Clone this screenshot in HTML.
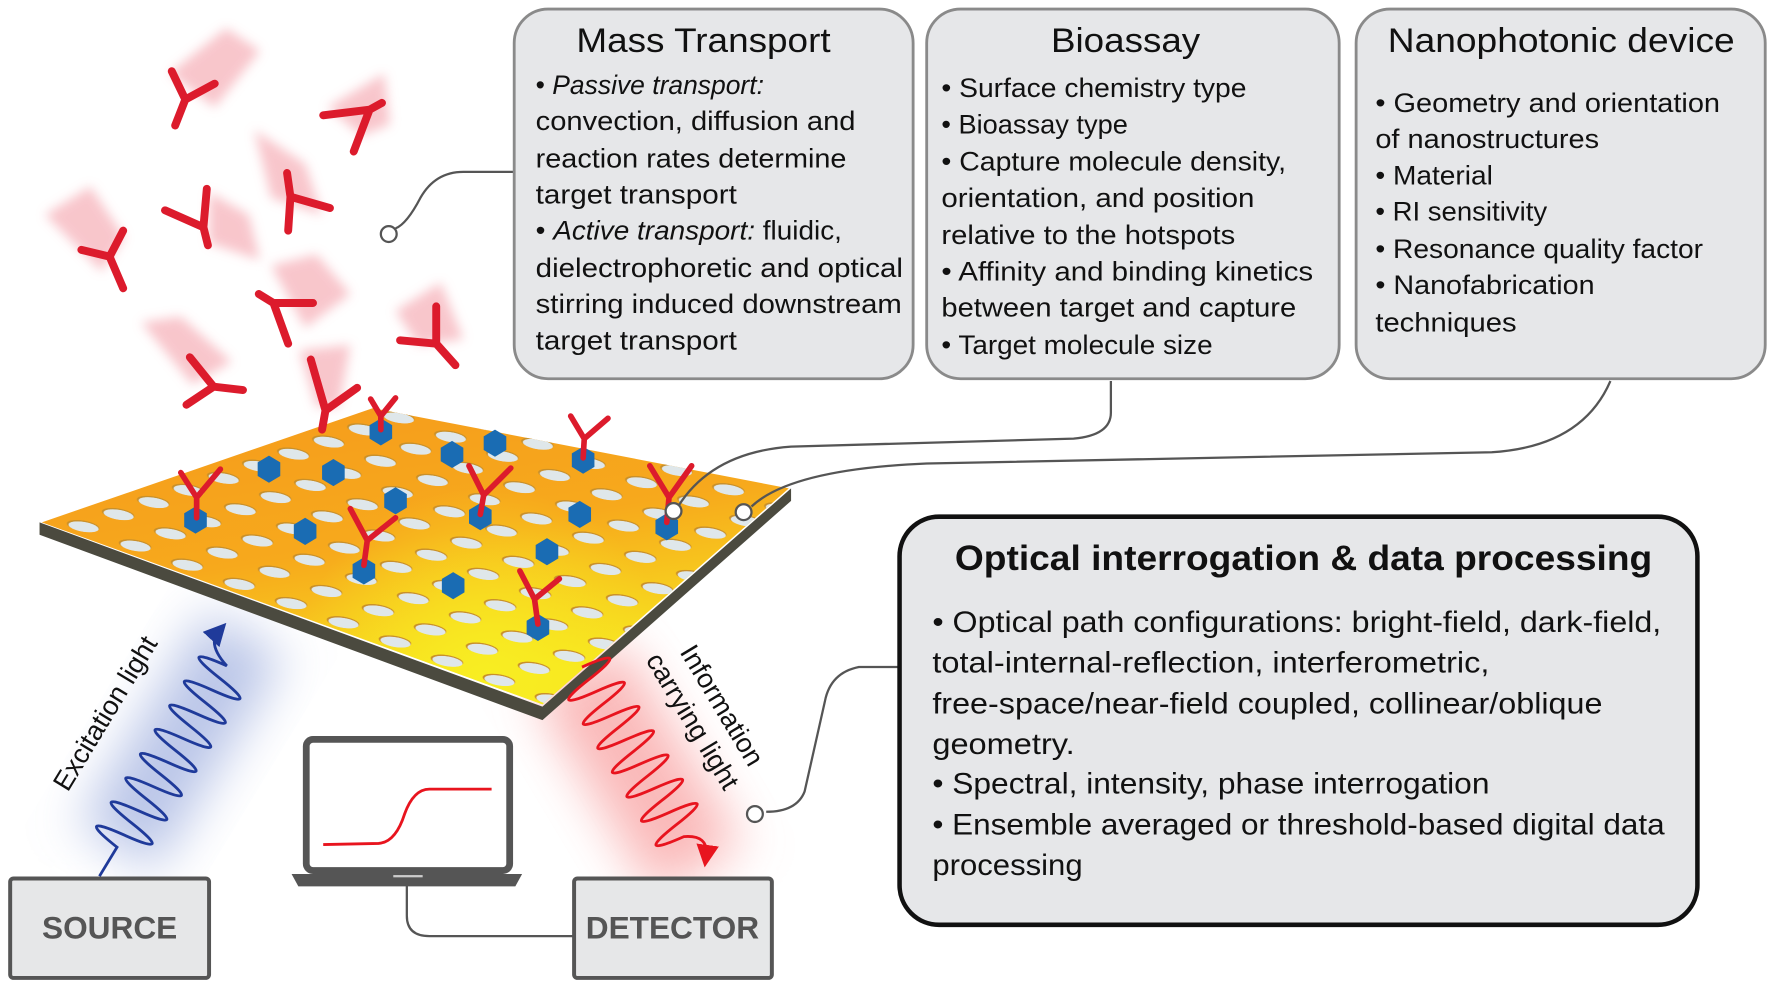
<!DOCTYPE html>
<html><head><meta charset="utf-8"><style>
html,body{margin:0;padding:0;background:#fff;}
svg{display:block;}
text{font-family:"Liberation Sans",sans-serif;fill:#111;}
.b{font-size:24px;}
</style></head><body>
<svg width="1772" height="987" viewBox="0 0 1568 873" preserveAspectRatio="none" xmlns="http://www.w3.org/2000/svg">
<defs>
<filter id="bl" x="-50%" y="-50%" width="200%" height="200%"><feGaussianBlur stdDeviation="5"/></filter>
<filter id="gl" x="-50%" y="-50%" width="200%" height="200%"><feGaussianBlur stdDeviation="22"/></filter>
<linearGradient id="pg" x1="0" y1="0" x2="0.4" y2="1">
<stop offset="0" stop-color="#f59a1c"/><stop offset="0.55" stop-color="#f7a91c"/><stop offset="1" stop-color="#f7e41f"/></linearGradient>
<radialGradient id="yg" cx="430" cy="600" r="170" gradientUnits="userSpaceOnUse"><stop offset="0" stop-color="#f8ee22"/><stop offset="1" stop-color="#f8ee22" stop-opacity="0"/></radialGradient>
<pattern id="holes" width="100" height="100" patternUnits="userSpaceOnUse" patternTransform="matrix(0.46 0.17 0.31 -0.107 35 462)">
<circle cx="50" cy="50" r="26" fill="#c9902a"/><circle cx="53" cy="47" r="24" fill="#dfe7ea"/></pattern>
<clipPath id="pc"><polygon points="37,462 330,361 698,432 480,623"/></clipPath>
<marker id="ab" markerWidth="8" markerHeight="8" refX="4" refY="4" orient="auto"><path d="M0,0 L8,4 L0,8 Z" fill="#1f3a9a"/></marker>
<marker id="ar" markerWidth="8" markerHeight="8" refX="4" refY="4" orient="auto"><path d="M0,0 L8,4 L0,8 Z" fill="#e8141e"/></marker>
<g id="hex"><polygon points="0,-12 10,-6 10,6 0,12 -10,6 -10,-6" fill="#1a6cb3"/></g>
</defs>

<g transform="translate(88,775) rotate(-58.8)" filter="url(#gl)"><rect x="30" y="-40" width="220" height="80" fill="#8ea0d8" opacity="0.6"/></g>
<g transform="translate(510,590) rotate(59)" filter="url(#gl)"><rect x="0" y="-45" width="210" height="90" fill="#f78a8a" opacity="0.6"/></g>

<g filter="url(#bl)" fill="#f7b8bf" opacity="0.8">
<polygon points="150,65 200,25 230,45 190,95"/>
<polygon points="290,95 340,65 345,110 320,120"/>
<polygon points="225,115 270,145 285,190 240,175"/>
<polygon points="40,190 80,165 110,210 90,240"/>
<polygon points="185,170 220,190 230,230 185,215"/>
<polygon points="240,235 280,225 310,260 270,290"/>
<polygon points="350,275 390,250 410,300 370,305"/>
<polygon points="125,285 160,280 205,320 170,340"/>
<polygon points="265,310 310,305 300,360 280,360"/>
</g>

<polygon points="35,462 35,473 480,637 700,443 700,432 480,625" fill="#4b4a3f"/>
<polygon points="37,462 330,361 698,432 480,623" fill="url(#pg)"/>
<polygon points="37,462 330,361 698,432 480,623" fill="url(#yg)"/>
<g clip-path="url(#pc)"><rect x="0" y="340" width="720" height="300" fill="url(#holes)"/></g>

<g stroke="#dc1b2c" stroke-width="7" stroke-linecap="round" fill="none">
<path d="M152,63 L164,88 L190,74 M164,88 L155,111"/>
<path d="M286,102 L327,97 L338,91 M327,97 L313,134"/>
<path d="M254,153 L257,174 L292,184 M257,174 L255,204"/>
<path d="M146,186 L180,201 L183,167 M180,201 L184,217"/>
<path d="M72,221 L97,227 L109,204 M97,227 L109,255"/>
<path d="M229,260 L242,268 L277,268 M242,268 L255,304"/>
<path d="M354,301 L386,304 L386,271 M386,304 L403,323"/>
<path d="M168,316 L189,342 L215,345 M189,342 L165,358"/>
<path d="M275,318 L288,363 L316,343 M288,363 L285,380"/>
</g>

<g>
<use href="#hex" x="173" y="460"/><use href="#hex" x="238" y="415"/><use href="#hex" x="295" y="418"/>
<use href="#hex" x="337" y="382"/><use href="#hex" x="350" y="443"/><use href="#hex" x="400" y="402"/>
<use href="#hex" x="438" y="392"/><use href="#hex" x="270" y="470"/><use href="#hex" x="322" y="505"/>
<use href="#hex" x="425" y="457"/><use href="#hex" x="513" y="455"/><use href="#hex" x="484" y="488"/>
<use href="#hex" x="516" y="407"/><use href="#hex" x="401" y="518"/><use href="#hex" x="590" y="466"/>
<use href="#hex" x="476" y="555"/>
</g>
<g stroke="#dc1b2c" stroke-width="5" stroke-linecap="round" fill="none">
<path d="M160,418 L174,440 L195,415 M174,440 L174,458"/>
<path d="M328,353 L337,368 L350,352 M337,368 L337,380"/>
<path d="M505,368 L517,388 L538,370 M517,388 L516,405"/>
<path d="M415,412 L428,438 L452,414 M428,438 L425,455"/>
<path d="M310,450 L325,478 L350,458 M325,478 L322,500"/>
<path d="M460,505 L473,530 L495,512 M473,530 L476,552"/>
<path d="M575,412 L592,440 L612,412 M592,440 L590,462"/>
</g>

<g transform="translate(88,775) rotate(-58.8)" fill="none" stroke="#1f3a9a" stroke-width="2.5">
<path d="M0,0 L30,0 Q36.25,-50 42.5,0 T55,0 T67.5,0 T80,0 T92.5,0 T105,0 T117.5,0 T130,0 T142.5,0 T155,0 T167.5,0 T180,0 T192.5,0 T205,0 T217.5,0 Q225,-25 240,-22" marker-end="url(#ab)"/>
</g>
<g transform="translate(515,590) rotate(59)" fill="none" stroke="#e8141e" stroke-width="2.5">
<path d="M0,0 Q6.25,-50 12.5,0 T25,0 T37.5,0 T50,0 T62.5,0 T75,0 T87.5,0 T100,0 T112.5,0 T125,0 T137.5,0 T150,0 T162.5,0 T175,0 Q185,-20 200,-8" marker-end="url(#ar)"/>
</g>
<text transform="translate(100,635) rotate(-58.8)" text-anchor="middle" font-size="24">Excitation light</text>
<text transform="translate(632,628) rotate(59)" text-anchor="middle" font-size="24">Information</text>
<text transform="translate(606,642) rotate(59)" text-anchor="middle" font-size="24">carrying light</text>

<rect x="9" y="777" width="176" height="88" rx="3" fill="#e6e7e8" stroke="#555" stroke-width="3.5"/>
<text x="97" y="830" text-anchor="middle" font-size="28" font-weight="bold" style="fill:#555">SOURCE</text>
<path d="M360,783 L360,810 Q360,828 380,828 L507,828" fill="none" stroke="#555" stroke-width="2"/>
<rect x="508" y="777" width="175" height="88" rx="3" fill="#e6e7e8" stroke="#555" stroke-width="3.5"/>
<text x="595" y="830" text-anchor="middle" font-size="28" font-weight="bold" style="fill:#555">DETECTOR</text>
<rect x="271" y="654" width="180" height="116" rx="6" fill="#fff" stroke="#555" stroke-width="6"/>
<path d="M258,773 L462,773 L456,784 L264,784 Z" fill="#555"/>
<rect x="348" y="774" width="26" height="2" fill="#ccc"/>
<path d="M286,747 L335,746 Q350,745 358,720 Q366,698 380,698 L435,698" fill="none" stroke="#e8141e" stroke-width="2.5"/>

<g fill="none" stroke="#555" stroke-width="2">
<path d="M455,152 L410,152 Q385,152 372,175 Q360,198 350,202"/>
<path d="M983,337 L983,365 Q983,385 950,388 L700,395 Q630,400 600,448"/>
<path d="M1425,337 Q1400,395 1320,400 L820,410 Q700,415 665,448"/>
<path d="M795,590 L760,590 Q735,595 730,620 L712,700 Q705,718 678,718"/>
</g>
<g fill="#fff" stroke="#555" stroke-width="2">
<circle cx="344" cy="207" r="7"/><circle cx="596" cy="452" r="7"/><circle cx="658" cy="453" r="7"/><circle cx="668" cy="720" r="7"/>
</g>

<rect x="455" y="8" width="353" height="327" rx="30" fill="#e6e7e9" stroke="#8a8a8a" stroke-width="2.5"/>
<text x="510" y="46" font-size="30" textLength="225" lengthAdjust="spacingAndGlyphs">Mass Transport</text>
<g class="b">
<text x="474" y="83" textLength="202" lengthAdjust="spacingAndGlyphs">• <tspan font-style="italic">Passive transport:</tspan></text>
<text x="474" y="115" textLength="283" lengthAdjust="spacingAndGlyphs">convection, diffusion and</text>
<text x="474" y="148" textLength="275" lengthAdjust="spacingAndGlyphs">reaction rates determine</text>
<text x="474" y="180" textLength="178" lengthAdjust="spacingAndGlyphs">target transport</text>
<text x="474" y="212" textLength="271" lengthAdjust="spacingAndGlyphs">• <tspan font-style="italic">Active transport:</tspan> fluidic,</text>
<text x="474" y="245" textLength="325" lengthAdjust="spacingAndGlyphs">dielectrophoretic and optical</text>
<text x="474" y="277" textLength="324" lengthAdjust="spacingAndGlyphs">stirring induced downstream</text>
<text x="474" y="309" textLength="178" lengthAdjust="spacingAndGlyphs">target transport</text>
</g>

<rect x="820" y="8" width="365" height="327" rx="30" fill="#e6e7e9" stroke="#8a8a8a" stroke-width="2.5"/>
<text x="930" y="46" font-size="30" textLength="132" lengthAdjust="spacingAndGlyphs">Bioassay</text>
<g class="b">
<text x="833" y="86" textLength="270" lengthAdjust="spacingAndGlyphs">• Surface chemistry type</text>
<text x="833" y="118" textLength="165" lengthAdjust="spacingAndGlyphs">• Bioassay type</text>
<text x="833" y="151" textLength="305" lengthAdjust="spacingAndGlyphs">• Capture molecule density,</text>
<text x="833" y="183" textLength="277" lengthAdjust="spacingAndGlyphs">orientation, and position</text>
<text x="833" y="216" textLength="260" lengthAdjust="spacingAndGlyphs">relative to the hotspots</text>
<text x="833" y="248" textLength="329" lengthAdjust="spacingAndGlyphs">• Affinity and binding kinetics</text>
<text x="833" y="280" textLength="314" lengthAdjust="spacingAndGlyphs">between target and capture</text>
<text x="833" y="313" textLength="240" lengthAdjust="spacingAndGlyphs">• Target molecule size</text>
</g>

<rect x="1200" y="8" width="362" height="327" rx="30" fill="#e6e7e9" stroke="#8a8a8a" stroke-width="2.5"/>
<text x="1228" y="46" font-size="30" textLength="307" lengthAdjust="spacingAndGlyphs">Nanophotonic device</text>
<g class="b">
<text x="1217" y="99" textLength="305" lengthAdjust="spacingAndGlyphs">• Geometry and orientation</text>
<text x="1217" y="131" textLength="198" lengthAdjust="spacingAndGlyphs">of nanostructures</text>
<text x="1217" y="163" textLength="104" lengthAdjust="spacingAndGlyphs">• Material</text>
<text x="1217" y="195" textLength="152" lengthAdjust="spacingAndGlyphs">• RI sensitivity</text>
<text x="1217" y="228" textLength="290" lengthAdjust="spacingAndGlyphs">• Resonance quality factor</text>
<text x="1217" y="260" textLength="194" lengthAdjust="spacingAndGlyphs">• Nanofabrication</text>
<text x="1217" y="293" textLength="125" lengthAdjust="spacingAndGlyphs">techniques</text>
</g>

<rect x="796" y="457" width="706" height="361" rx="35" fill="#e6e7e9" stroke="#111" stroke-width="4"/>
<text x="845" y="504" font-size="31" font-weight="bold" textLength="617" lengthAdjust="spacingAndGlyphs">Optical interrogation &amp; data processing</text>
<g font-size="26">
<text x="825" y="559" textLength="645" lengthAdjust="spacingAndGlyphs">• Optical path configurations: bright-field, dark-field,</text>
<text x="825" y="595" textLength="493" lengthAdjust="spacingAndGlyphs">total-internal-reflection, interferometric,</text>
<text x="825" y="631" textLength="593" lengthAdjust="spacingAndGlyphs">free-space/near-field coupled, collinear/oblique</text>
<text x="825" y="667" textLength="126" lengthAdjust="spacingAndGlyphs">geometry.</text>
<text x="825" y="702" textLength="493" lengthAdjust="spacingAndGlyphs">• Spectral, intensity, phase interrogation</text>
<text x="825" y="738" textLength="648" lengthAdjust="spacingAndGlyphs">• Ensemble averaged or threshold-based digital data</text>
<text x="825" y="774" textLength="133" lengthAdjust="spacingAndGlyphs">processing</text>
</g>
</svg>
</body></html>
